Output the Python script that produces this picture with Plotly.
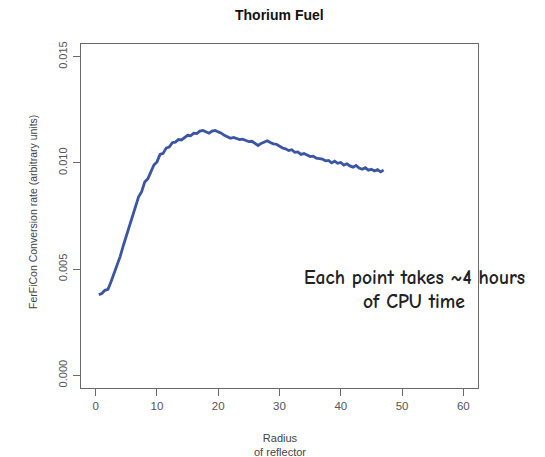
import plotly.graph_objects as go

# Data
radius = [0.5, 1.0, 1.5, 2.0, 2.5, 3.0, 3.5, 4.0, 4.5, 5.0, 5.5, 6.0, 6.5, 7.0, 7.5,
          8.0, 8.5, 9.0, 9.5, 10.0, 10.5, 11.0, 11.5, 12.0, 12.5, 13.0, 13.5, 14.0,
          14.5, 15.0, 15.5, 16.0, 16.5, 17.0, 17.5, 18.0, 18.5, 19.0, 19.5, 20.0,
          20.5, 21.0, 21.5, 22.0, 22.5, 23.0, 23.5, 24.0, 24.5, 25.0, 25.5, 26.0,
          26.5, 27.0, 27.5, 28.0, 28.5, 29.0, 29.5, 30.0, 30.5, 31.0, 31.5, 32.0,
          32.5, 33.0, 33.5, 34.0, 34.5, 35.0, 35.5, 36.0, 36.5, 37.0, 37.5, 38.0,
          38.5, 39.0, 39.5, 40.0, 40.5, 41.0, 41.5, 42.0, 42.5, 43.0, 43.5, 44.0,
          44.5, 45.0, 45.5, 46.0, 46.5, 47.0]
conversion = [0.00380, 0.00385, 0.00400, 0.00405, 0.00440, 0.00480, 0.00515, 0.00560,
              0.00610, 0.00655, 0.00700, 0.00745, 0.00790, 0.00840, 0.00865, 0.00910,
              0.00925, 0.00960, 0.00990, 0.01005, 0.01040, 0.01045, 0.01070, 0.01075,
              0.01095, 0.01098, 0.01110, 0.01108, 0.01120, 0.01130, 0.01128, 0.01140,
              0.01138, 0.01150, 0.01153, 0.01148, 0.01140, 0.01150, 0.01153, 0.01146,
              0.01140, 0.01130, 0.01122, 0.01116, 0.01120, 0.01114, 0.01110, 0.01112,
              0.01104, 0.01100, 0.01102, 0.01090, 0.01082, 0.01092, 0.01100, 0.01104,
              0.01096, 0.01090, 0.01088, 0.01078, 0.01070, 0.01066, 0.01058, 0.01062,
              0.01050, 0.01052, 0.01040, 0.01044, 0.01036, 0.01030, 0.01032, 0.01022,
              0.01020, 0.01018, 0.01010, 0.01012, 0.01000, 0.01008, 0.00998, 0.01002,
              0.00990, 0.00996, 0.00986, 0.00980, 0.00988, 0.00976, 0.00970, 0.00978,
              0.00966, 0.00970, 0.00962, 0.00968, 0.00958, 0.00966]

x_ticks = [0, 10, 20, 30, 40, 50, 60]
y_ticks = [0.000, 0.005, 0.010, 0.015]
y_tick_labels = ["0.000", "0.005", "0.010", "0.015"]

title_text = "Thorium Fuel"
x_title = "Radius<br>of reflector"
y_title = "FerFiCon Conversion rate (arbitrary units)"
note_line1 = "Each point takes ~4 hours"
note_line2 = "of CPU time"

fig = go.Figure()
fig.add_trace(go.Scatter(
    x=radius, y=conversion, mode="lines",
    line=dict(color="#3a55a4", width=2.8),
    showlegend=False,
))

axis_common = dict(
    showline=True, linecolor="#6a6a6a", linewidth=1, mirror=True,
    ticks="outside", ticklen=7, tickcolor="#6a6a6a", tickwidth=1,
    showgrid=False, zeroline=False,
)

note_font = dict(family="Comic Sans MS, Comic Neue, DejaVu Sans", size=19.5, color="#222222")

fig.update_layout(
    width=537, height=449,
    margin=dict(l=73, r=67, t=36, b=69),
    plot_bgcolor="white", paper_bgcolor="white",
    xaxis=dict(range=[-2.4, 62.4], tickvals=x_ticks,
               tickfont=dict(family="Liberation Sans, Arial", size=11.5, color="#555555"),
               **axis_common),
    yaxis=dict(range=[-0.0006, 0.0156], tickvals=y_ticks, ticktext=y_tick_labels,
               tickangle=-90, ticklabelstandoff=2,
               tickfont=dict(family="Liberation Sans, Arial", size=11, color="#555555"),
               **axis_common),
    annotations=[
        dict(text="<b>" + title_text + "</b>", xref="paper", yref="paper",
             x=0.5, y=1, yshift=29, yanchor="middle", xanchor="center", showarrow=False,
             font=dict(family="Liberation Sans, Arial", size=14, color="#111111")),
        dict(text=x_title, xref="paper", yref="paper", x=0.5, y=0, yshift=-57,
             yanchor="middle", xanchor="center", showarrow=False, align="center",
             font=dict(family="Liberation Sans, Arial", size=11, color="#444444")),
        dict(text=y_title, xref="paper", yref="paper", x=0, y=0.5, xshift=-48,
             yshift=4, xanchor="center", yanchor="middle", textangle=-90, showarrow=False,
             font=dict(family="Liberation Sans, Arial", size=10.5, color="#444444")),
        dict(text="<b>" + note_line1 + "</b>", xref="x", yref="y", x=52.1, y=0.00460,
             xanchor="center", yanchor="middle", showarrow=False, font=note_font),
        dict(text="<b>" + note_line2 + "</b>", xref="x", yref="y", x=51.9, y=0.00346,
             xanchor="center", yanchor="middle", showarrow=False, font=note_font),
    ],
)

fig.write_html("out.html")
